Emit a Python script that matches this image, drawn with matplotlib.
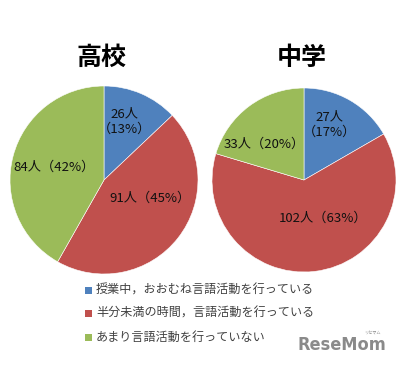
import matplotlib.pyplot as plt
from matplotlib.patches import Rectangle

plt.rcParams['font.family'] = ['Noto Sans CJK JP', 'DejaVu Sans']

# data
categories = ['授業中，おおむね言語活動を行っている',
              '半分未満の時間，言語活動を行っている',
              'あまり言語活動を行っていない']
koukou = [26, 91, 84]
chugaku = [27, 102, 33]
titles = ['高校', '中学']

colors = ['#4F81BD', '#C0504D', '#9BBB59']

W, H = 404, 365
fig = plt.figure(figsize=(W / 100, H / 100), dpi=100)
fig.patch.set_facecolor('white')


def pie_axes(cx, cy, r):
    # pixel center / radius -> figure axes
    return fig.add_axes([(cx - r) / W, (H - cy - r) / H, 2 * r / W, 2 * r / H])


# label placement inside each pie (units of radius), two-line flag
label_pos = [
    [(0.22, 0.62, True), (0.49, -0.19, False), (-0.53, 0.14, False)],
    [(0.28, 0.60, True), (0.21, -0.42, False), (-0.43, 0.39, False)],
]
title_x = [102, 302]

for i, (vals, (cx, cy, r)) in enumerate(zip([koukou, chugaku],
                                             [(104, 180, 94), (304, 180, 92)])):
    ax = pie_axes(cx, cy, r)
    wedges, _ = ax.pie(vals, colors=colors, startangle=90, counterclock=False,
                       radius=1, wedgeprops=dict(edgecolor='white', linewidth=0.4))
    ax.set_xlim(-1, 1)
    ax.set_ylim(-1, 1)
    ax.set_aspect('equal')
    ax.axis('off')
    total = sum(vals)
    for v, (lx, ly, two_line) in zip(vals, label_pos[i]):
        pct = round(v / total * 100)
        sep = '\n' if two_line else ''
        ax.text(lx, ly, f'{v}人{sep}（{pct}%）', ha='center', va='center',
                fontsize=9.5, color='#111111', linespacing=1.25)
    fig.text(title_x[i] / W, 1 - 58 / H, titles[i], ha='center', va='center',
             fontsize=18, fontweight='bold', color='black')

# legend
for k, lab in enumerate(categories):
    y = 290 + k * 23.5
    fig.patches.append(Rectangle((85 / W, 1 - (y + 3.5) / H), 7 / W, 7 / H,
                                 transform=fig.transFigure, facecolor=colors[k],
                                 edgecolor='none'))
    fig.text(96 / W, 1 - y / H, lab, ha='left', va='center',
             fontsize=8.7, color='#404040')

# watermark
fig.text(342 / W, 1 - 345 / H, 'ReseMom', ha='center', va='center',
         fontsize=13, fontweight='bold', color='#8a8a8a',
         family=['Liberation Sans Narrow', 'DejaVu Sans'], stretch='condensed')
fig.text(372 / W, 1 - 333 / H, 'リセマム', ha='center', va='center',
         fontsize=3, color='#8a8a8a')

fig.savefig('out.png', dpi=100)
